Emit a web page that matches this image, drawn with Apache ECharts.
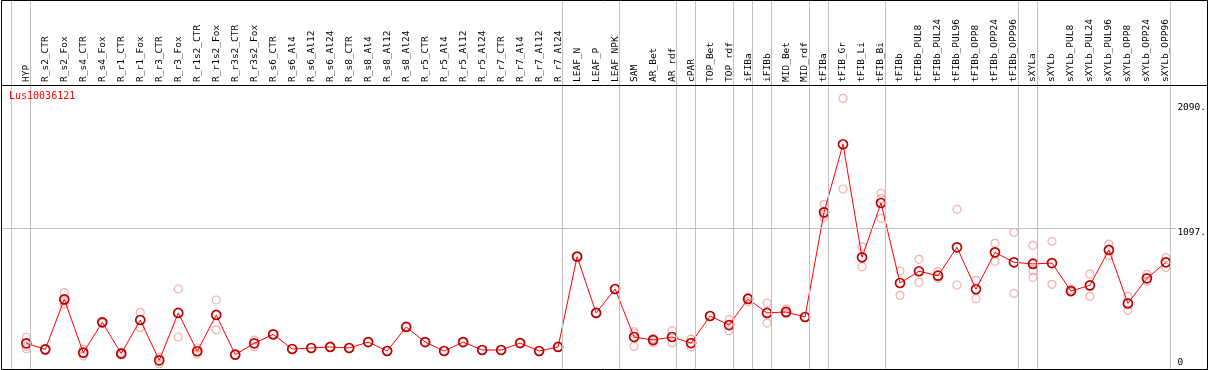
<!DOCTYPE html>
<html>
<head>
<meta charset="utf-8">
<script src="https://cdn.jsdelivr.net/npm/echarts@6/dist/echarts.min.js"></script>
<style>
html,body{margin:0;padding:0;background:#fff;}
#chart{width:1209px;height:370px;}
</style>
</head>
<body>
<div id="chart"></div>
<script>
// ---------------- data ----------------
const geneName = 'Lus10036121';

const categories = ['HYP','R_s2_CTR','R_s2_Fox','R_s4_CTR','R_s4_Fox','R_r1_CTR','R_r1_Fox','R_r3_CTR','R_r3_Fox',
  'R_r1s2_CTR','R_r1s2_Fox','R_r3s2_CTR','R_r3s2_Fox','R_s6_CTR','R_s6_Al4','R_s6_Al12','R_s6_Al24',
  'R_s8_CTR','R_s8_Al4','R_s8_Al12','R_s8_Al24','R_r5_CTR','R_r5_Al4','R_r5_Al12','R_r5_Al24',
  'R_r7_CTR','R_r7_Al4','R_r7_Al12','R_r7_Al24','LEAF_N','LEAF_P','LEAF_NPK','SAM','AR_Bet','AR_rdf',
  'cPAR','TOP_Bet','TOP_rdf','iFIBa','iFIBb','MID_Bet','MID_rdf','tFIBa','tFIB_Gr','tFIB_Li','tFIB_Bi',
  'tFIBb','tFIBb_PUL8','tFIBb_PUL24','tFIBb_PUL96','tFIBb_OPP8','tFIBb_OPP24','tFIBb_OPP96',
  'sXYLa','sXYLb','sXYLb_PUL8','sXYLb_PUL24','sXYLb_PUL96','sXYLb_OPP8','sXYLb_OPP24','sXYLb_OPP96'];

const meanValues = [184,136,533,110,351,102,369,49,425,
  121,409,94,184,255,139,147,155,
  147,194,123,314,194,123,194,131,
  131,186,123,155,872,425,615,234,210,234,
  186,401,329,536,425,433,393,1224,1764,867,1298,
  663,756,721,946,613,906,827,
  814,821,599,644,925,501,700,827];

const replicateValues = [
  [232,160,141],[136],[586,495,518],[137,83],[356,345],[113,92],[430,308],[73,22],[615,234],
  [147,99],[528,290],[94],[210,157],[255],[139],[147],[155],
  [147],[194],[123],[314],[194],[123],[194],[131],
  [131],[186],[123],[155],[872],[425],[615],[276,262,160],[224,190,215],[284,189],
  [218,155],[401],[372,284],[550,515],[504,345],[456,425,418],[393],[1287,1205,1184],[2129,1409],[951,792],[1375,1332,1176],
  [758,565],[851,668],[753,700],[1248,647],[684,538],[978,835],[1065,581],
  [962,828,758,708],[994,652],[613,592],[734,557],[972,880],[557,446],[732,676],[864,787]];

// group separators: vertical rule drawn just after these category indices
const groupEnds = [-1,0,28,31,34,35,37,38,39,41,42,45,52,53,60];

// y axis ticks
const yTickValues = [0,1097,2090];
const yTickLabels = ['0','1097.','2090.'];
const gridLineValue = 1097;

// ---------------- layout ----------------
const STEP = 19;            // px per category
const X0 = 26.3;            // centre of first category
const Y0 = 366.5;           // pixel of value 0
const PPU = 0.12598;        // px per unit
const gridALeft = X0 - STEP/2;
const gridATop = 86, gridABottom = 369;
const yMinA = (Y0 - gridABottom)/PPU;
const yMaxA = (Y0 - gridATop)/PPU;
// full-frame grid (for rules)
const fL = 1, fR = 1207, fT = 0, fB = 369;
const xMinB = (fL - X0)/STEP, xMaxB = (fR - X0)/STEP;
const yMinB = (Y0 - fB)/PPU, yMaxB = (Y0 - fT)/PPU;
const ruleOffset = 4.2/STEP;
const hRuleEnd = (1176 - X0)/STEP;

const mono = 'DejaVu Sans Mono';

const repData = [];
replicateValues.forEach((arr,i)=>arr.forEach(v=>repData.push([i,v])));

const chart = echarts.init(document.getElementById('chart'), null, {renderer:'canvas'});
chart.setOption({
  animation:false,
  backgroundColor:'#fff',
  title:{text:geneName,left:9,top:91,padding:0,
    textStyle:{color:'#ff0000',fontFamily:mono,fontSize:10,fontWeight:'normal'}},
  grid:[
    {left:gridALeft,top:gridATop,width:STEP*categories.length,height:gridABottom-gridATop,containLabel:false},
    {left:fL,top:fT,width:fR-fL,height:fB-fT,containLabel:false}
  ],
  xAxis:[
    {type:'category',gridIndex:0,data:categories,position:'top',boundaryGap:true,
     axisLine:{show:false},axisTick:{show:false},splitLine:{show:false},
     axisLabel:{interval:0,rotate:90,margin:4,color:'#000',fontFamily:mono,fontSize:9.5}},
    {type:'value',gridIndex:1,min:xMinB,max:xMaxB,show:false}
  ],
  yAxis:[
    {type:'value',gridIndex:0,position:'right',min:yMinA,max:yMaxA,
     axisLine:{show:false},axisTick:{show:false},splitLine:{show:false},
     axisLabel:{customValues:yTickValues,margin:2,color:'#000',fontFamily:mono,fontSize:9.5,
       formatter:function(v){
         let k=-1; yTickValues.forEach((t,j)=>{if(Math.abs(t-v)<0.5)k=j;});
         if(k<0) return '';
         return v===0 ? '{lo|'+yTickLabels[k]+'}' : '{hi|'+yTickLabels[k]+'}';
       },
       rich:{
         hi:{padding:[8,0,0,0],fontFamily:mono,fontSize:9.5,color:'#000'},
         lo:{padding:[0,0,8,0],fontFamily:mono,fontSize:9.5,color:'#000'}
       }}},
    {type:'value',gridIndex:1,min:yMinB,max:yMaxB,show:false}
  ],
  series:[
    {type:'line',xAxisIndex:1,yAxisIndex:1,data:[],symbol:'none',silent:true,z:0,
     markLine:{silent:true,symbol:['none','none'],animation:false,label:{show:false},
       lineStyle:{color:'#c0c0c0',width:1,type:'solid'},emphasis:{disabled:true},
       data:groupEnds.map(b=>({xAxis:b+ruleOffset})).concat([
         [{coord:[xMinB,gridLineValue]},{coord:[hRuleEnd,gridLineValue]}]
       ])}},
    {type:'scatter',xAxisIndex:0,yAxisIndex:0,data:repData,symbol:'circle',symbolSize:8,z:2,
     itemStyle:{color:'rgba(0,0,0,0)',borderColor:'#f09a9a',borderWidth:1.2}},
    {type:'line',xAxisIndex:0,yAxisIndex:0,data:meanValues,symbol:'circle',symbolSize:9,z:3,
     lineStyle:{color:'#ff0000',width:1},
     itemStyle:{color:'rgba(0,0,0,0)',borderColor:'#b80000',borderWidth:1.7}}
  ],
  graphic:[
    {type:'rect',silent:true,z:10,shape:{x:1.5,y:0.5,width:1206,height:369},
     style:{fill:null,stroke:'#000',lineWidth:1}},
    {type:'line',silent:true,z:10,shape:{x1:1.5,y1:85.5,x2:1207.5,y2:85.5},
     style:{stroke:'#000',lineWidth:1}}
  ]
});
</script>
</body>
</html>
